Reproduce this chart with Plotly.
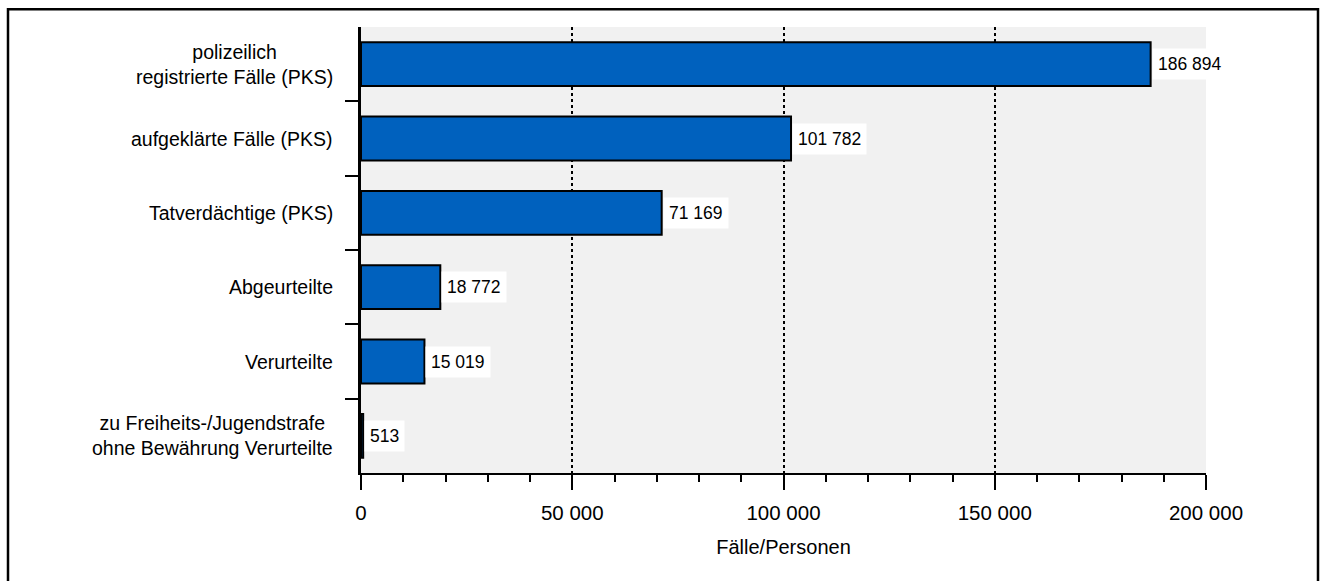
import plotly.graph_objects as go

categories = [
    "polizeilich<br>registrierte Fälle (PKS)",
    "aufgeklärte Fälle (PKS)",
    "Tatverdächtige (PKS)",
    "Abgeurteilte",
    "Verurteilte",
    "zu Freiheits-/Jugendstrafe<br>ohne Bewährung Verurteilte",
]
values = [186894, 101782, 71169, 18772, 15019, 513]
x_ticks = [0, 50000, 100000, 150000, 200000]
x_tick_labels = ["0", "50 000", "100 000", "150 000", "200 000"]
x_title = "Fälle/Personen"

FONT = "Liberation Sans, Arial, sans-serif"


def fmt(v):
    return f"{v:,}".replace(",", " ")


n = len(categories)
boundaries = [i + 0.5 for i in range(n - 1)]

fig = go.Figure()
fig.add_trace(go.Bar(
    x=values,
    y=categories,
    orientation="h",
    marker=dict(color="#0061BE", line=dict(color="black", width=2)),
    width=0.59,
    hoverinfo="skip",
))
# empty helper trace so the boundary-tick axis is drawn
fig.add_trace(go.Scatter(x=[None], y=[None], yaxis="y2", mode="markers",
                         hoverinfo="skip", showlegend=False))

# value labels on white boxes right of each bar
for c, v in zip(categories, values):
    fig.add_annotation(
        x=v, y=c, xref="x", yref="y",
        text=fmt(v), showarrow=False,
        xanchor="left", yanchor="middle", xshift=1,
        bgcolor="white", borderpad=5,
        font=dict(family=FONT, size=17.5, color="black"),
    )

# category labels, centred multi-line text left of the axis
for c in categories:
    fig.add_annotation(
        x=0, y=c, xref="paper", yref="y",
        text=c, showarrow=False, align="center",
        xanchor="right", yanchor="middle", xshift=-26,
        font=dict(family=FONT, size=19.5, color="black"),
    )

# outer frame
fig.add_shape(type="rect", xref="paper", yref="paper",
              x0=-353 / 845, x1=957 / 845, y0=-0.245, y1=1.04,
              line=dict(color="black", width=2.5), fillcolor="rgba(0,0,0,0)",
              layer="below")

fig.update_layout(
    width=1326, height=581,
    margin=dict(l=361, r=120, t=27, b=108),
    paper_bgcolor="white",
    plot_bgcolor="#F1F1F1",
    showlegend=False,
    font=dict(family=FONT, size=19, color="black"),
    xaxis=dict(
        range=[0, 200000],
        tickvals=x_ticks, ticktext=x_tick_labels,
        ticks="outside", ticklen=15, tickwidth=2, tickcolor="black",
        minor=dict(dtick=10000, ticks="outside", ticklen=7, tickwidth=2,
                   tickcolor="black", showgrid=False),
        showline=True, linecolor="black", linewidth=2,
        showgrid=True, gridcolor="black", griddash="dot", gridwidth=2,
        zeroline=False,
        title=dict(text=x_title, standoff=17, font=dict(family=FONT, size=20)),
        tickfont=dict(family=FONT, size=20.5),
        ticklabelstandoff=5,
        fixedrange=True,
    ),
    yaxis=dict(
        autorange="reversed",
        showticklabels=False,
        ticks="",
        showline=True, linecolor="black", linewidth=3,
        showgrid=False, zeroline=False,
        fixedrange=True,
    ),
    # linear overlay axis carrying the ticks between categories
    yaxis2=dict(
        overlaying="y", side="left",
        range=[n - 0.5, -0.5],
        tickvals=boundaries, showticklabels=False,
        ticks="outside", ticklen=15, tickwidth=2, tickcolor="black",
        showline=False, showgrid=False, zeroline=False,
        fixedrange=True,
    ),
)

fig.write_html("out.html")
